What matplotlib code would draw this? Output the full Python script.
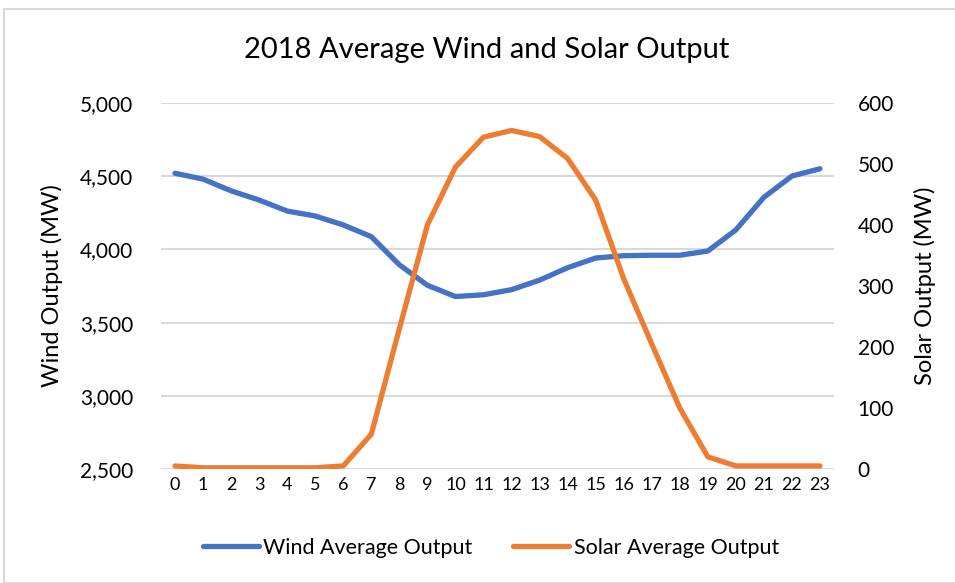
import matplotlib.pyplot as plt
from matplotlib.patches import Rectangle
from matplotlib.ticker import FuncFormatter

hours = list(range(24))
wind = [4520, 4480, 4400, 4337, 4262, 4228, 4167, 4087, 3895, 3755, 3678, 3690,
        3725, 3790, 3875, 3941, 3957, 3960, 3960, 3989, 4133, 4356, 4501, 4551]
solar = [5, 2, 2, 2, 2, 2, 5, 57, 230, 400, 495, 544,
         555, 545, 509, 441, 312, 205, 100, 20, 5, 5, 5, 5]

wind_color = '#4472C4'
solar_color = '#ED7D31'
font = ['Lato', 'DejaVu Sans']
plt.rcParams['font.family'] = font

fig = plt.figure(figsize=(9.55, 5.83), dpi=100)
fig.patches.append(Rectangle((4 / 955, 0), 1, 1 - 9 / 583, transform=fig.transFigure,
                             fill=False, edgecolor='#D9D9D9', lw=1.5))

ax = fig.add_axes([161 / 955, 1 - 469 / 583, (834 - 161) / 955, (469 - 103) / 583])
ax2 = ax.twinx()

l1, = ax.plot(hours, wind, color=wind_color, lw=3.8, solid_capstyle='round',
              solid_joinstyle='round', label='Wind Average Output')
l2, = ax2.plot(hours, solar, color=solar_color, lw=3.8, solid_capstyle='round',
               solid_joinstyle='round', label='Solar Average Output')

ax.set_xlim(-0.5, 23.5)
ax.set_ylim(2500, 5000)
ax.set_yticks(range(2500, 5001, 500))
ax.yaxis.set_major_formatter(FuncFormatter(lambda v, p: f'{int(v):,}'))
ax2.set_ylim(0, 600)
ax2.set_yticks(range(0, 601, 100))
ax.set_xticks(hours)

ax.grid(axis='y', color='#D9D9D9', lw=1.5)
ax.set_axisbelow(True)
for a in (ax, ax2):
    for s in a.spines.values():
        s.set_visible(False)
    a.tick_params(length=0, labelsize=15, colors='black')
ax.tick_params(axis='y', pad=20)
ax2.tick_params(axis='y', pad=17)
ax.tick_params(axis='x', pad=6, labelsize=13)

ax.set_ylabel('Wind Output (MW)', fontsize=17, labelpad=12)
ax2.set_ylabel('Solar Output (MW)', fontsize=17, labelpad=14)

fig.text(487 / 955, 1 - 50 / 583, '2018 Average Wind and Solar Output',
         ha='center', va='center', fontsize=21)

fig.legend(handles=[l1, l2], loc='center', bbox_to_anchor=(491 / 955, 1 - 548 / 583),
           ncol=2, frameon=False, fontsize=15.5, handlelength=2.6, columnspacing=1.9,
           handletextpad=0.2)

fig.savefig('out.png', dpi=100)
